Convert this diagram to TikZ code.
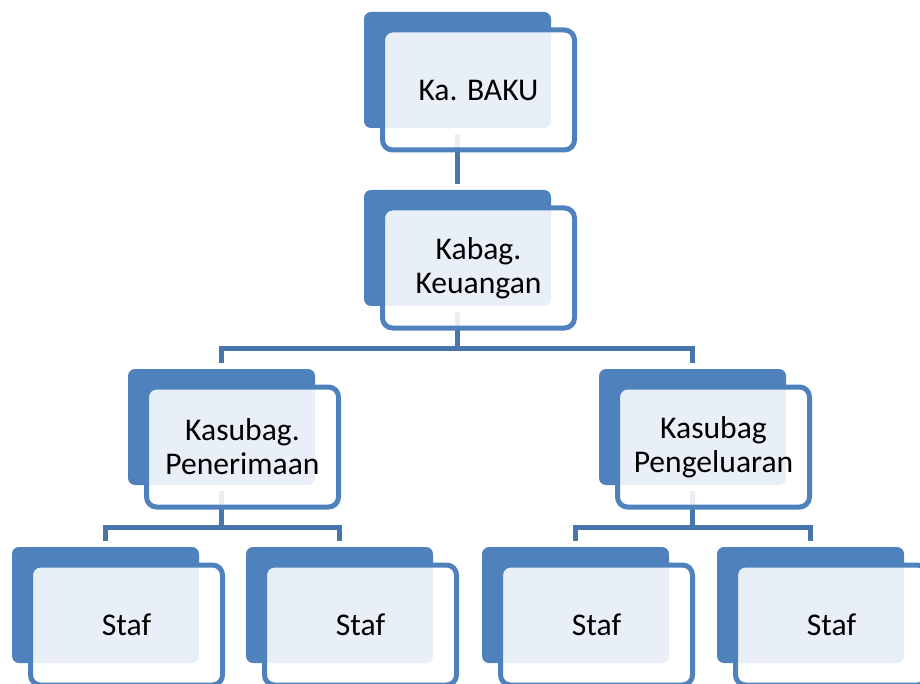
\documentclass[tikz,border=0pt]{standalone}
\usepackage{fontspec}
\setmainfont{Carlito}
\usetikzlibrary{calc}
\pgfdeclarelayer{bg}
\pgfsetlayers{bg,main}
\definecolor{accent}{RGB}{79,129,189}
\definecolor{conn}{RGB}{72,118,172}
\tikzset{
  backbox/.style={rectangle, fill=accent, rounded corners=7pt, minimum width=187pt, minimum height=116pt, inner sep=0pt, outer sep=0pt},
  frontbox/.style={rectangle, draw=accent, line width=5pt, fill=white, fill opacity=0.88, text opacity=1, rounded corners=10pt, minimum width=192pt, minimum height=120pt, inner sep=0pt, outer sep=0pt, align=center, font=\fontsize{31.6}{34}\selectfont},
  connector/.style={draw=conn, line width=5pt, line join=miter}
}
\begin{document}
\begin{tikzpicture}[x=1pt,y=-1pt]
\useasboundingbox (0,0) rectangle (920,684);
\clip (0,0) rectangle (920,684);
% back boxes (centre = NW + (93.5,58))
\node[backbox] (kab)  at (457.5,70) {};
\node[frontbox] (ka) at ($(kab)+(21,20)$) {Ka. BAKU};
\node[backbox] (kbb)  at (457.5,248) {};
\node[frontbox] (kb) at ($(kbb)+(21,20)$) {Kabag.\\Keuangan};
\node[backbox] (penb) at (221.5,427) {};
\node[frontbox] (pen) at ($(penb)+(21,20)$) {Kasubag.\\Penerimaan};
\node[backbox] (pngb) at (692.5,427) {};
\node[frontbox] (png) at ($(pngb)+(21,20)$) {Kasubag\\Pengeluaran};
\node[backbox] (s1b) at (105.5,605) {};
\node[frontbox] (s1) at ($(s1b)+(21,20)$) {Staf};
\node[backbox] (s2b) at (339.5,605) {};
\node[frontbox] (s2) at ($(s2b)+(21,20)$) {Staf};
\node[backbox] (s3b) at (575.5,605) {};
\node[frontbox] (s3) at ($(s3b)+(21,20)$) {Staf};
\node[backbox] (s4b) at (810.5,605) {};
\node[frontbox] (s4) at ($(s4b)+(21,20)$) {Staf};
\begin{pgfonlayer}{bg}
  \draw[connector] ([yshift=-6pt]kab.south) -- ([yshift=6pt]kbb.north);
  \coordinate (j1) at ([yshift=21pt]penb.north);
  \coordinate (j2) at ([yshift=21pt]pngb.north);
  \draw[connector] ([yshift=-6pt]kbb.south) |- (j1) -- ([yshift=6pt]penb.north);
  \draw[connector] ([yshift=-6pt]kbb.south) |- (j2) -- ([yshift=6pt]pngb.north);
  \coordinate (j3) at ([yshift=20pt]s1b.north);
  \coordinate (j4) at ([yshift=20pt]s2b.north);
  \draw[connector] ([yshift=-6pt]penb.south) |- (j3) -- ([yshift=6pt]s1b.north);
  \draw[connector] ([yshift=-6pt]penb.south) |- (j4) -- ([yshift=6pt]s2b.north);
  \coordinate (j5) at ([yshift=20pt]s3b.north);
  \coordinate (j6) at ([yshift=20pt]s4b.north);
  \draw[connector] ([yshift=-6pt]pngb.south) |- (j5) -- ([yshift=6pt]s3b.north);
  \draw[connector] ([yshift=-6pt]pngb.south) |- (j6) -- ([yshift=6pt]s4b.north);
\end{pgfonlayer}
\end{tikzpicture}
\end{document}
